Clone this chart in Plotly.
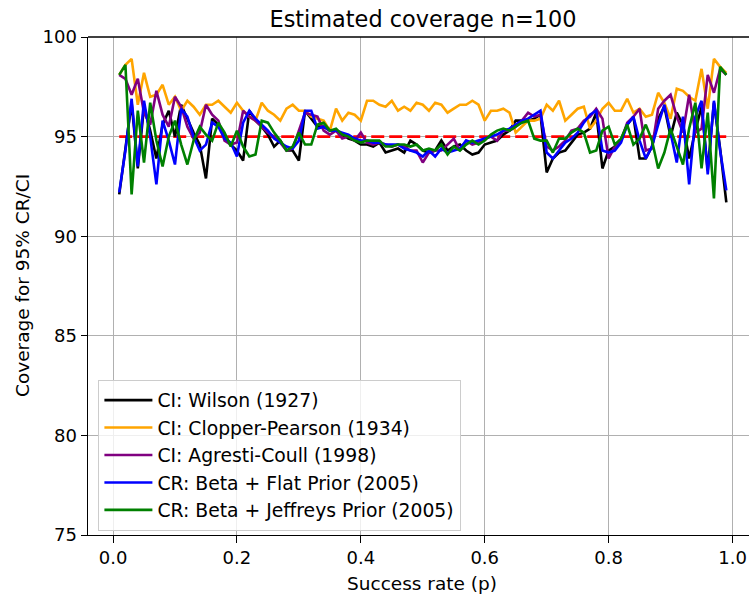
import plotly.graph_objects as go

p = [round(0.01 * i, 2) for i in range(1, 100)]

wilson = [92.1, 94.4, 96.7, 93.4, 96.5, 95.3, 93.9, 95.6, 96.3, 95.0,
          96.6, 95.9, 95.2, 94.6, 92.9, 95.9, 95.6, 95.1, 94.6, 94.3,
          93.8, 96.3, 95.8, 95.5, 95.1, 94.5, 94.8, 94.3, 94.3, 93.8,
          96.3, 95.9, 95.5, 95.5, 95.3, 95.3, 95.1, 94.9, 94.8, 94.6,
          94.6, 94.5, 94.7, 94.2, 94.3, 94.4, 94.2, 94.8, 94.6, 94.3,
          94.2, 94.3, 94.8, 94.3, 94.5, 94.6, 94.3, 94.1, 94.2, 94.6,
          94.7, 94.8, 95.1, 95.3, 95.8, 95.8, 95.8, 95.9, 96.1, 93.2,
          93.9, 94.2, 94.3, 94.7, 95.1, 95.2, 95.4, 96.2, 93.4, 94.3,
          94.5, 94.8, 95.6, 96.0, 93.9, 93.9, 94.5, 95.9, 96.5, 95.0,
          96.2, 95.6, 93.9, 95.3, 96.5, 93.3, 96.7, 94.4, 91.7]

clopper = [98.1, 98.6, 98.9, 96.6, 98.2, 97.0, 97.1, 97.6, 96.6, 97.0,
           96.3, 96.8, 96.5, 96.1, 96.6, 96.6, 96.8, 96.5, 96.2, 96.7,
           96.3, 96.0, 95.8, 96.7, 96.3, 96.1, 95.8, 96.4, 96.6, 96.3,
           96.3, 96.0, 95.9, 95.8, 95.3, 96.4, 95.8, 96.2, 96.1, 95.8,
           96.8, 96.8, 96.6, 96.5, 96.8, 96.3, 96.5, 96.3, 96.7, 96.6,
           96.3, 96.7, 96.6, 96.2, 96.4, 96.6, 96.6, 96.8, 96.6, 95.8,
           96.3, 96.3, 96.4, 96.2, 95.2, 95.5, 95.8, 95.8, 95.9, 96.6,
           96.3, 96.8, 95.8, 96.1, 96.4, 96.5, 95.4, 95.8, 96.4, 96.7,
           96.3, 96.3, 96.9, 96.2, 96.4, 96.0, 96.1, 97.2, 96.7, 95.9,
           97.4, 97.3, 97.0, 96.8, 98.4, 96.4, 98.9, 98.5, 98.2]

agresti = [98.1, 97.9, 97.1, 97.9, 96.2, 95.6, 97.3, 96.1, 95.5, 97.0,
           96.5, 95.5, 94.9, 95.2, 96.6, 96.1, 95.8, 94.8, 94.6, 94.7,
           96.3, 96.0, 95.8, 95.5, 95.2, 95.0, 94.7, 94.3, 94.4, 95.3,
           96.2, 96.1, 96.0, 95.3, 95.1, 95.3, 94.9, 95.0, 94.8, 95.2,
           94.7, 94.6, 94.7, 94.6, 94.5, 94.6, 94.5, 94.3, 94.3, 93.7,
           94.2, 94.3, 94.3, 94.6, 94.9, 94.3, 94.8, 94.6, 94.7, 94.9,
           95.0, 94.8, 95.3, 95.3, 95.5, 95.8, 96.2, 96.0, 96.1, 94.5,
           94.3, 94.5, 94.8, 95.3, 95.4, 95.8, 96.0, 96.4, 95.9, 93.9,
           94.5, 94.8, 95.7, 96.0, 96.4, 94.3, 94.4, 96.4, 96.8, 97.1,
           96.0, 95.2, 97.1, 95.2, 95.4, 98.1, 97.2, 98.4, 98.1]

flat = [92.2, 94.3, 96.9, 93.5, 96.8, 95.0, 92.6, 95.8, 94.8, 93.6,
        96.4, 96.0, 95.0, 94.3, 94.6, 95.7, 95.5, 94.9, 94.7, 94.0,
        95.7, 96.3, 95.9, 95.6, 95.3, 94.9, 94.7, 94.5, 94.4, 94.8,
        96.3, 96.3, 95.4, 95.5, 95.3, 95.3, 95.2, 95.1, 94.9, 94.8,
        94.8, 94.7, 94.7, 94.6, 94.6, 94.6, 94.4, 94.3, 94.2, 94.0,
        94.3, 94.0, 94.4, 94.2, 94.3, 94.4, 94.8, 94.7, 94.8, 94.9,
        95.0, 95.1, 95.3, 95.4, 95.6, 95.8, 95.9, 96.1, 96.3, 94.2,
        93.9, 94.3, 94.7, 94.9, 95.2, 95.7, 96.1, 96.3, 94.3, 94.2,
        94.3, 94.7, 95.6, 96.0, 94.8, 93.9, 94.5, 95.6, 96.6, 95.2,
        93.7, 96.0, 92.6, 96.0, 96.8, 93.1, 96.8, 94.3, 92.3]

jeffreys = [98.1, 98.6, 92.1, 96.3, 93.7, 96.7, 94.8, 93.5, 95.0, 95.8,
            94.6, 93.6, 94.8, 95.5, 95.1, 94.8, 95.7, 95.2, 94.5, 95.3,
            94.5, 94.0, 94.1, 95.8, 95.7, 95.2, 94.8, 94.3, 94.5, 95.2,
            94.6, 94.6, 95.6, 95.7, 95.3, 95.4, 95.1, 95.0, 94.8, 94.7,
            94.8, 94.8, 94.8, 94.5, 94.5, 94.6, 94.6, 94.5, 94.6, 94.3,
            94.4, 94.3, 94.6, 94.1, 94.5, 94.3, 94.6, 94.8, 94.6, 94.8,
            95.1, 95.3, 95.4, 95.3, 95.5, 95.7, 95.8, 94.9, 94.8, 94.8,
            94.2, 94.9, 94.9, 95.2, 95.4, 95.2, 94.2, 94.3, 95.3, 95.5,
            94.6, 94.9, 95.6, 94.6, 94.9, 95.6, 94.8, 93.4, 94.2, 95.4,
            94.5, 93.6, 95.4, 96.7, 93.4, 96.2, 91.9, 98.5, 98.1]

target = [95.0] * len(p)

names = ["CI: Wilson (1927)", "CI: Clopper-Pearson (1934)", "CI: Agresti-Coull (1998)",
         "CR: Beta + Flat Prior (2005)", "CR: Beta + Jeffreys Prior (2005)"]
colors = ["black", "orange", "purple", "blue", "green"]
series = [wilson, clopper, agresti, flat, jeffreys]

x_ticks = [0.0, 0.2, 0.4, 0.6, 0.8, 1.0]
x_ticktext = ["0.0", "0.2", "0.4", "0.6", "0.8", "1.0"]
y_ticks = [75, 80, 85, 90, 95, 100]

FONT = "DejaVu Sans"
FS = 18
FS_LBL = 18.5
FS_LEG = 18.8
LW = 2.6

# plot area in pixels: left 88, right 749, top 37, bottom 535
fig = go.Figure()
fig.add_trace(go.Scatter(x=p, y=target, mode="lines", showlegend=False,
                         line=dict(color="red", width=LW, dash="13px,5px"), hoverinfo="skip"))
for i, (nm, c, s) in enumerate(zip(names, colors, series)):
    fig.add_trace(go.Scatter(x=p, y=s, mode="lines", name=nm, legendgroup=str(i),
                             line=dict(color=c, width=LW)))

fig.update_layout(
    width=749, height=595,
    margin=dict(l=88, r=0, t=37, b=60),
    paper_bgcolor="white", plot_bgcolor="white",
    font=dict(family=FONT, size=FS, color="black"),
    title=dict(text="Estimated coverage n=100", x=(423 - 88) / 661, xref="paper", xanchor="center",
               y=1 - 19 / 595, yref="container", yanchor="middle",
               font=dict(family=FONT, size=22.4, color="black")),
    showlegend=True,
    legend=dict(x=(98 - 88) / 661, y=(535 - 380) / 498, xanchor="left", yanchor="top",
                bgcolor="rgba(255,255,255,0.8)", bordercolor="#cccccc", borderwidth=1.4,
                font=dict(family=FONT, size=FS_LEG, color="black"),
                tracegroupgap=0.6, traceorder="normal", itemwidth=48),
    shapes=[dict(type="line", xref="paper", yref="paper", x0=0, x1=1, y0=1, y1=1,
                 line=dict(color="black", width=1.4))],
    annotations=[
        dict(text="Success rate (p)", xref="paper", yref="paper",
             x=(422 - 88) / 661, y=(535 - 583) / 498, xanchor="center", yanchor="middle",
             showarrow=False, font=dict(family=FONT, size=FS_LBL, color="black")),
        dict(text="Coverage for 95% CR/CI", xref="paper", yref="paper", textangle=-90,
             x=(22 - 88) / 661, y=(535 - 286) / 498, xanchor="center", yanchor="middle",
             showarrow=False, font=dict(family=FONT, size=FS_LBL, color="black")),
    ],
)
fig.update_xaxes(range=[-0.0404, 1.0266], tickvals=x_ticks, ticktext=x_ticktext,
                 showgrid=True, gridcolor="#b0b0b0", gridwidth=1.4, zeroline=False,
                 showline=True, linecolor="black", linewidth=1.4, mirror=False,
                 ticks="outside", ticklen=6.3, tickcolor="black", tickwidth=1.4,
                 tickfont=dict(family=FONT, size=FS, color="black"))
fig.update_yaxes(range=[75, 100], tickvals=y_ticks,
                 showgrid=True, gridcolor="#b0b0b0", gridwidth=1.4, zeroline=False,
                 showline=True, linecolor="black", linewidth=1.4, mirror=False,
                 ticks="outside", ticklen=6.3, tickcolor="black", tickwidth=1.4,
                 tickfont=dict(family=FONT, size=FS, color="black"))

fig.write_html("out.html")
